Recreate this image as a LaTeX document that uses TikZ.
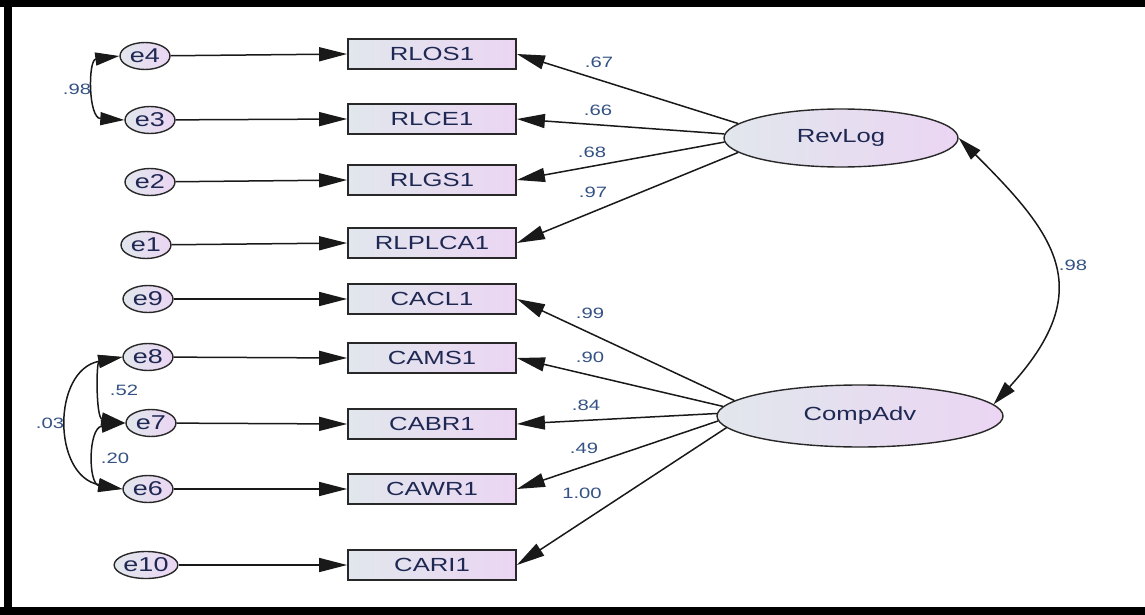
\documentclass[tikz,border=0pt]{standalone}
\usepackage{fontspec}
\setmainfont{Liberation Sans}[FakeStretch=1.35]
\usetikzlibrary{arrows.meta,shapes.geometric}
\definecolor{txtc}{RGB}{30,40,82}
\definecolor{numc}{RGB}{52,82,132}
\definecolor{shL}{RGB}{225,231,236}
\definecolor{shR}{RGB}{235,213,243}
\definecolor{edge}{RGB}{40,40,40}
\tikzset{
  shade box/.style={left color=shL, right color=shR, draw=edge},
  obsvar/.style={shade box, rectangle, line width=1.8pt, minimum width=168pt,
    minimum height=30pt, inner sep=0pt, text=txtc, font=\fontsize{19}{21}\selectfont},
  errvar/.style={shade box, ellipse, line width=1.4pt, minimum width=50pt,
    minimum height=27pt, inner sep=0pt, text=txtc, font=\fontsize{20}{22}\selectfont},
  latvar/.style={shade box, ellipse, line width=1.4pt, inner sep=0pt,
    text=txtc, font=\fontsize{19}{21}\selectfont},
  loadpath/.style={line width=1.5pt, draw=black!90, -{Triangle[length=28pt,width=14pt]}},
  covpath/.style={line width=1.5pt, draw=black!90,
    {Triangle[length=24pt,width=13pt]}-{Triangle[length=24pt,width=13pt]}},
  coef/.style={text=numc, font=\fontsize{15}{17}\selectfont, inner sep=0pt}
}
\begin{document}
\begin{tikzpicture}[x=1pt,y=-1pt]
% canvas and frame
\fill[white] (0,0) rectangle (1145,615);
\useasboundingbox (0,0) rectangle (1145,615);
\fill[black] (0,0) rectangle (1145,7);
\fill[black] (4,0) rectangle (12,615);
\fill[black] (0,607) rectangle (1145,615);

% indicators
\node[obsvar] (RLOS1)   at (432,54)  {RLOS1};
\node[obsvar] (RLCE1)   at (432,119) {RLCE1};
\node[obsvar] (RLGS1)   at (432,180) {RLGS1};
\node[obsvar] (RLPLCA1) at (432,243) {RLPLCA1};
\node[obsvar] (CACL1)   at (432,299) {CACL1};
\node[obsvar] (CAMS1)   at (432,358) {CAMS1};
\node[obsvar] (CABR1)   at (432,424) {CABR1};
\node[obsvar] (CAWR1)   at (432,489) {CAWR1};
\node[obsvar] (CARI1)   at (432,565) {CARI1};

% error terms
\node[errvar] (e4)  at (145,56)  {e4};
\node[errvar] (e3)  at (150,120) {e3};
\node[errvar] (e2)  at (150,182) {e2};
\node[errvar] (e1)  at (146,245) {e1};
\node[errvar] (e9)  at (148,299) {e9};
\node[errvar] (e8)  at (148,357) {e8};
\node[errvar] (e7)  at (151,423) {e7};
\node[errvar] (e6)  at (148,489) {e6};
\node[errvar] (e10) at (146,565) {e10};

% latent factors
\node[latvar, minimum width=234pt, minimum height=58pt] (RevLog)  at (841,138) {RevLog};
\node[latvar, minimum width=286pt, minimum height=62pt] (CompAdv) at (860,416) {CompAdv};

% error paths
\foreach \e/\v in {e4/RLOS1,e3/RLCE1,e2/RLGS1,e1/RLPLCA1,e9/CACL1,e8/CAMS1,e7/CABR1,e6/CAWR1,e10/CARI1}
  \draw[loadpath] (\e) -- (\v.west);

% loadings
\foreach \v/\a in {RLOS1/172,RLCE1/178,RLGS1/182,RLPLCA1/188}
  \draw[loadpath] (RevLog.\a) -- (\v.east);
\foreach \v/\a in {CACL1/173,CAMS1/176,CABR1/179.5,CAWR1/182,CARI1/185}
  \draw[loadpath] (CompAdv.\a) -- (\v.east);

\node[coef] at (599,62)  {.67};
\node[coef] at (598,110) {.66};
\node[coef] at (592,152) {.68};
\node[coef] at (593,192) {.97};
\node[coef] at (590,313) {.99};
\node[coef] at (590,357) {.90};
\node[coef] at (586,405) {.84};
\node[coef] at (584,448) {.49};
\node[coef] at (582,493) {1.00};

% factor covariance
\draw[covpath] (RevLog.east) .. controls (1057,236) and (1098,290) .. (CompAdv.5);
\node[coef] at (1073,265) {.98};

% error covariances
\draw[covpath] (e4.west) .. controls (88,60) and (88,118) .. (e3.west);
\node[coef] at (77,89) {.98};
\draw[covpath] (e8.west) .. controls (96,362) and (96,418) .. (e7.west);
\node[coef] at (124,390) {.52};
\draw[covpath] (e7.west) .. controls (88,428) and (88,484) .. (e6.west);
\node[coef] at (115,458) {.20};
\draw[covpath] (e8.west) .. controls (52,370) and (52,476) .. (e6.west);
\node[coef] at (50,423) {.03};
\end{tikzpicture}
\end{document}
